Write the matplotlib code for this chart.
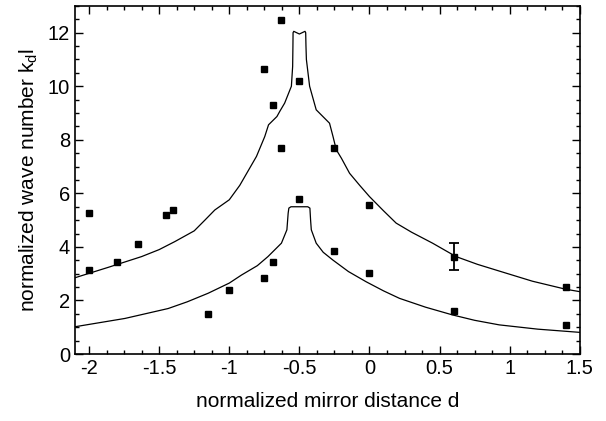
import matplotlib
matplotlib.use("Agg")
import matplotlib.pyplot as plt
from matplotlib.ticker import MultipleLocator

# measured points
pts_d = [-2.0, -2.0, -1.80, -1.65, -1.45, -1.40, -1.15, -1.0, -0.75, -0.69,
         -0.75, -0.63, -0.69, -0.63, -0.50, -0.50, -0.25, 0.0, -0.25, 0.0,
         0.6, 0.6, 1.4, 1.4]
pts_k = [5.27, 3.14, 3.44, 4.11, 5.20, 5.38, 1.50, 2.39, 2.84, 3.44,
         10.65, 12.49, 9.31, 7.70, 10.20, 5.79, 7.70, 5.57, 3.86, 3.03,
         3.62, 1.62, 2.52, 1.08]
err_d = [0.6]
err_k = [3.64]
err_size = [0.5]

# upper theory curve
up_d = [-2.1, -1.862, -1.625, -1.5, -1.388, -1.25, -1.174, -1.103, -1.0,
        -0.925, -0.806, -0.747, -0.72, -0.66, -0.64, -0.605, -0.557, -0.548,
        -0.546, -0.545, -0.54, -0.50, -0.46, -0.455, -0.453, -0.45, -0.427,
        -0.38, -0.285, -0.26, -0.237, -0.2, -0.142, -0.07, 0.0, 0.1, 0.19,
        0.3, 0.45, 0.617, 0.77, 0.925, 1.162, 1.4, 1.5]
up_k = [2.85, 3.24, 3.64, 3.9, 4.2, 4.6, 5.0, 5.38, 5.76,
        6.3, 7.38, 8.12, 8.56, 8.87, 9.06, 9.37, 10.0, 10.74,
        11.5, 12.0, 12.05, 11.95, 12.05, 12.0, 11.5, 11.0, 10.0,
        9.12, 8.62, 8.12, 7.63, 7.31, 6.75, 6.3, 5.88, 5.35, 4.89,
        4.55, 4.14, 3.64, 3.35, 3.1, 2.72, 2.42, 2.33]

# lower theory curve
lo_d = [-2.1, -1.744, -1.436, -1.3, -1.151, -1.0, -0.913, -0.8, -0.724,
        -0.628, -0.589, -0.58, -0.575, -0.56, -0.44, -0.425, -0.42, -0.415,
        -0.38, -0.33, -0.261, -0.15, -0.024, 0.1, 0.214, 0.4, 0.593, 0.75,
        0.925, 1.2, 1.5]
lo_k = [1.02, 1.33, 1.70, 1.95, 2.27, 2.65, 2.95, 3.3, 3.64,
        4.14, 4.64, 5.26, 5.45, 5.5, 5.5, 5.45, 5.0, 4.64,
        4.14, 3.8, 3.51, 3.08, 2.70, 2.36, 2.08, 1.75, 1.46, 1.26,
        1.09, 0.93, 0.81]

plt.rcParams["font.family"] = ["Liberation Sans", "DejaVu Sans"]

fig = plt.figure(figsize=(6.06, 4.21), dpi=100)
ax = fig.add_axes([0.1238, 0.159, 0.833, 0.827])

ax.plot(up_d, up_k, color="black", linewidth=0.9)
ax.plot(lo_d, lo_k, color="black", linewidth=0.9)
ax.plot(pts_d, pts_k, "s", color="black", markersize=5)
ax.errorbar(err_d, err_k, yerr=err_size, fmt="none", ecolor="black",
            elinewidth=1.3, capsize=3.5, capthick=1.3)

ax.set_xlim(-2.1, 1.5)
ax.set_ylim(0, 13)
ax.xaxis.set_major_locator(MultipleLocator(0.5))
ax.xaxis.set_minor_locator(MultipleLocator(0.125))
ax.yaxis.set_major_locator(MultipleLocator(2))
ax.yaxis.set_minor_locator(MultipleLocator(0.5))
ax.set_xticks([-2, -1.5, -1, -0.5, 0, 0.5, 1, 1.5])
ax.set_xticklabels(["-2", "-1.5", "-1", "-0.5", "0", "0.5", "1", "1.5"])
ax.tick_params(which="both", direction="in", top=True, right=True,
               labelsize=14.5, width=1.0)
ax.tick_params(which="major", length=6)
ax.tick_params(which="minor", length=3)
for s in ax.spines.values():
    s.set_linewidth(1.2)

ax.set_xlabel("normalized mirror distance d", fontsize=15, labelpad=10)
ax.set_ylabel("normalized wave number k$_\\mathregular{d}$l", fontsize=15, labelpad=6)

fig.savefig("out.png", dpi=100)
